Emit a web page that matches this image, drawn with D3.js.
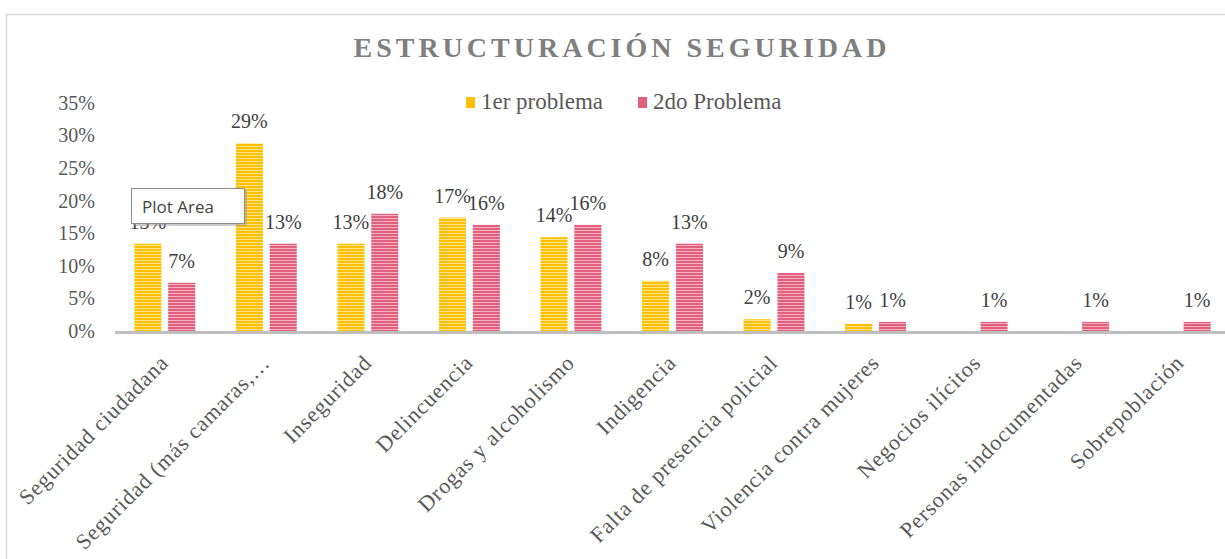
<!DOCTYPE html>
<html><head><meta charset="utf-8">
<script src="https://cdn.jsdelivr.net/npm/d3@7"></script>
<style>
html,body{margin:0;padding:0;background:#fff;}
svg{display:block;}
</style></head>
<body>
<svg id="chart" width="1225" height="559"></svg>
<script>
const categories = ["Seguridad ciudadana","Seguridad (más camaras,…","Inseguridad","Delincuencia","Drogas y alcoholismo","Indigencia","Falta de presencia policial","Violencia contra mujeres","Negocios ilícitos","Personas indocumentadas","Sobrepoblación"];
const primero = [13.4, 28.8, 13.4, 17.4, 14.4, 7.7, 1.8, 1.1, 0, 0, 0];
const segundo = [7.4, 13.4, 18.0, 16.3, 16.3, 13.4, 8.9, 1.4, 1.4, 1.4, 1.4];
const seriesNames = ["1er problema","2do Problema"];
const yTicks = [0,5,10,15,20,25,30,35];

const svg = d3.select("#chart");
const W = 1225, H = 559;
const margin = {left:114, right:-6, top:103, bottom:228};
const serif = "'Liberation Serif', 'DejaVu Serif', serif";

// border
svg.append("path").attr("d", `M6.5,${H} V14.5 H${W}`).attr("fill","none").attr("stroke","#d9d9d9").attr("stroke-width",1.5);

// patterns
const defs = svg.append("defs");
function pat(id, base, stripe){
  const p = defs.append("pattern").attr("id",id).attr("patternUnits","userSpaceOnUse").attr("width",6).attr("height",3);
  p.append("rect").attr("width",6).attr("height",3).attr("fill",base);
  p.append("rect").attr("y",2).attr("width",6).attr("height",1).attr("fill",stripe);
}
pat("pY","#FFC000","#FFE38A");
pat("pP","#E0607E","#F4AFC0");
const fills = ["url(#pY)","url(#pP)"];
const legendColors = ["#FFC000","#E0607E"];

const x0 = d3.scaleBand().domain(categories).range([margin.left, W - margin.right]).paddingInner(0.4).paddingOuter(0.2);
const x1 = d3.scaleBand().domain([0,1]).range([0, x0.bandwidth()]).paddingInner(0.2);
const y = d3.scaleLinear().domain([0,35]).range([H - margin.bottom, margin.top]);

// title
svg.append("text").attr("x",622).attr("y",57).attr("text-anchor","middle")
  .attr("font-family",serif).attr("font-weight","bold").attr("font-size",28)
  .attr("letter-spacing",4).attr("fill","#7f7f7f").text("ESTRUCTURACIÓN SEGURIDAD");

// y tick labels
const yAxis = svg.append("g").attr("transform",`translate(95,0)`)
  .call(d3.axisLeft(y).tickValues(yTicks).tickFormat(d=>d+"%").tickSize(0).tickPadding(0));
yAxis.select(".domain").remove();
yAxis.selectAll("text").attr("font-family",serif).attr("font-size",20).attr("fill","#595959").attr("dy","0.32em");

// bars
const data = categories.map((c,i)=>({c, v:[primero[i], segundo[i]]}));
const g = svg.append("g");
data.forEach(d=>{
  d.v.forEach((v,k)=>{
    if(v<=0) return;
    const bx = x0(d.c) + x1(k);
    g.append("rect").attr("x",bx).attr("y",y(v)).attr("width",x1.bandwidth()).attr("height",y(0)-y(v)).attr("fill",fills[k]);
    g.append("text").attr("x",bx + x1.bandwidth()/2).attr("y",y(v)-15)
      .attr("text-anchor","middle").attr("font-family",serif).attr("font-size",20).attr("fill","#404040")
      .text(Math.round(v)+"%");
  });
});

// x axis line
svg.append("line").attr("x1",115).attr("x2",W).attr("y1",y(0)+1.5).attr("y2",y(0)+1.5).attr("stroke","#bfbfbf").attr("stroke-width",3);

// category labels
const xl = svg.append("g");
categories.forEach(c=>{
  const cx = x0(c) + x0.bandwidth()/2 + 5;
  xl.append("text").attr("transform",`translate(${cx},364) rotate(-45)`)
    .attr("text-anchor","end").attr("font-family",serif).attr("font-size",22)
    .attr("letter-spacing",0.9).attr("fill","#595959").text(c);
});

// legend
const leg = svg.append("g");
const lx = [466, 638];
seriesNames.forEach((s,k)=>{
  leg.append("rect").attr("x",lx[k]).attr("y",97).attr("width",9).attr("height",11).attr("fill",legendColors[k]);
  leg.append("text").attr("x",lx[k]+15).attr("y",109).attr("font-family",serif).attr("font-size",23).attr("fill","#595959").text(s);
});

// "Plot Area" tooltip
const tt = svg.append("g");
tt.append("rect").attr("x",133).attr("y",190).attr("width",114).attr("height",36).attr("fill","#9a9a9a").attr("opacity",0.5);
tt.append("rect").attr("x",131.5).attr("y",188.5).attr("width",113).attr("height",35).attr("fill","#fff").attr("stroke","#8c8c8c");
tt.append("text").attr("x",142).attr("y",213).attr("font-family","'Open Sans', 'Noto Sans', sans-serif").attr("font-size",17).attr("fill","#444").text("Plot Area");
</script>
</body></html>
